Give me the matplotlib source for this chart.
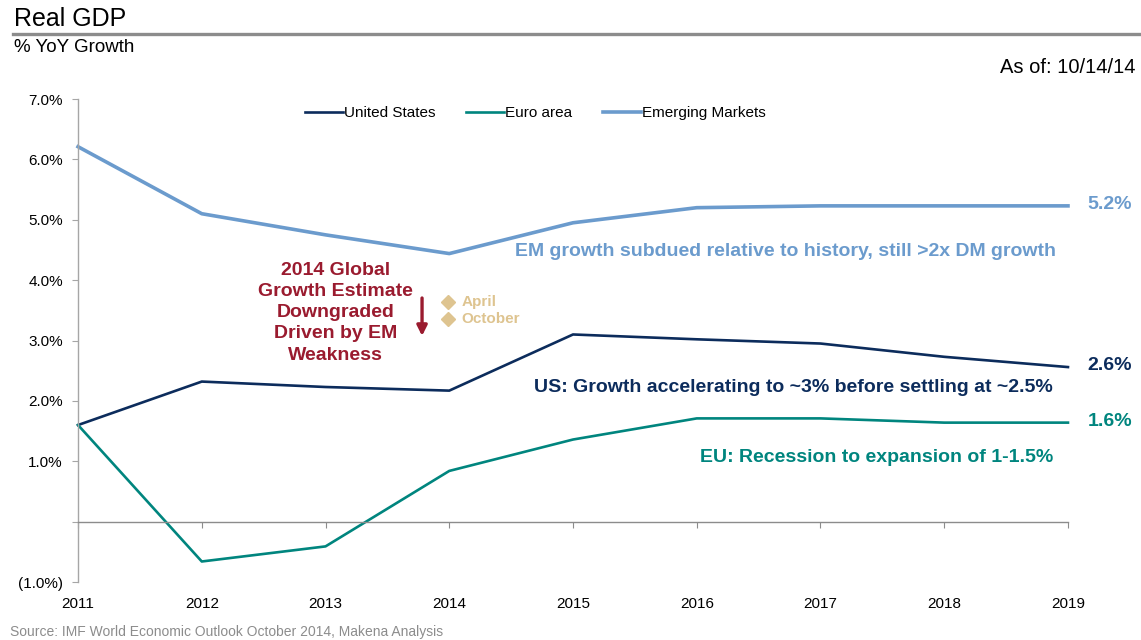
import numpy as np
import matplotlib
matplotlib.use("Agg")
import matplotlib.pyplot as plt
from matplotlib.lines import Line2D
from matplotlib.ticker import FuncFormatter

plt.rcParams['font.family'] = ['Liberation Sans', 'DejaVu Sans']

# ---- data: IMF WEO October 2014, real GDP % YoY ----
years = [2011, 2012, 2013, 2014, 2015, 2016, 2017, 2018, 2019]
us = [1.60, 2.32, 2.23, 2.17, 3.10, 3.02, 2.95, 2.73, 2.56]
euro = [1.60, -0.66, -0.41, 0.84, 1.36, 1.71, 1.71, 1.64, 1.64]
em = [6.21, 5.10, 4.75, 4.44, 4.95, 5.20, 5.23, 5.23, 5.23]
series_names = ['United States', 'Euro area', 'Emerging Markets']
yticks = [-1, 0, 1, 2, 3, 4, 5, 6, 7]

C_US = '#0C2C5C'
C_EU = '#00857E'
C_EM = '#6B9BCD'
C_RED = '#9A1B2F'
C_TAN = '#DEC490'
C_GRID = '#A6A6A6'

fig = plt.figure(figsize=(11.41, 6.40), dpi=100)
ax = fig.add_axes([0.0684, 0.0906, 0.8676, 0.7547])

ax.plot(years, us, color=C_US, lw=1.9, clip_on=False, label=series_names[0])
ax.plot(years, euro, color=C_EU, lw=1.9, clip_on=False, label=series_names[1])
ax.plot(years, em, color=C_EM, lw=2.6, clip_on=False, label=series_names[2])

ax.set_xlim(2011, 2019)
ax.set_ylim(-1, 7)

# axes styling: y spine on the left, x spine sitting on the zero line
for s in ['top', 'right']:
    ax.spines[s].set_visible(False)
ax.spines['left'].set_color(C_GRID)
ax.spines['left'].set_linewidth(1.0)
ax.spines['bottom'].set_position(('data', 0))
ax.spines['bottom'].set_color('#8C8C8C')
ax.spines['bottom'].set_linewidth(1.0)

ax.set_yticks(yticks)
def pct_fmt(v, _):
    if abs(v) < 1e-9:
        return ''
    if v < 0:
        return f'({abs(v):.1f}%)'
    return f'{v:.1f}%'
ax.yaxis.set_major_formatter(FuncFormatter(pct_fmt))
ax.tick_params(axis='y', direction='out', length=4, color=C_GRID,
               labelsize=11, pad=7)
ax.set_xticks(years)
ax.set_xticklabels([str(y) for y in years])
ax.tick_params(axis='x', direction='out', length=4, color='#8C8C8C',
               labelsize=11, pad=50)

# legend
leg = ax.legend(loc='upper center', bbox_to_anchor=(0.462, 1.014), ncol=3,
                frameon=False, fontsize=11, handlelength=2.5,
                handletextpad=0.05, columnspacing=2.0)

# end-of-line value labels
for vals, col in [(em, C_EM), (us, C_US), (euro, C_EU)]:
    ax.annotate(f'{vals[-1]:.1f}%', xy=(years[-1], vals[-1]),
                xytext=(14, 1), textcoords='offset points',
                ha='left', va='center', fontsize=14, fontweight='bold',
                color=col, annotation_clip=False)

# commentary
ax.text(2018.9, 4.47, 'EM growth subdued relative to history, still >2x DM growth',
        ha='right', va='center', fontsize=14, fontweight='bold', color=C_EM)
ax.text(2018.88, 2.22, 'US: Growth accelerating to ~3% before settling at ~2.5%',
        ha='right', va='center', fontsize=14, fontweight='bold', color=C_US)
ax.text(2018.88, 1.06, 'EU: Recession to expansion of 1-1.5%',
        ha='right', va='center', fontsize=14, fontweight='bold', color=C_EU)

ax.text(2013.08, 3.46, '2014 Global\nGrowth Estimate\nDowngraded\nDriven by EM\nWeakness',
        ha='center', va='center', fontsize=14, fontweight='bold', color=C_RED,
        linespacing=1.32)
ax.annotate('', xy=(2013.78, 3.03), xytext=(2013.78, 3.75),
            arrowprops=dict(arrowstyle='-|>', color=C_RED, lw=2.4,
                            mutation_scale=15))
ax.plot([2013.99, 2013.99], [3.64, 3.35], ls='none', marker='D', ms=7,
        color=C_TAN)
ax.text(2014.10, 3.64, 'April', ha='left', va='center', fontsize=11,
        fontweight='bold', color=C_TAN)
ax.text(2014.10, 3.35, 'October', ha='left', va='center', fontsize=11,
        fontweight='bold', color=C_TAN)

# header
fig.text(0.0125, 0.97, 'Real GDP', ha='left', va='center', fontsize=18)
fig.add_artist(Line2D([0.0114, 1.0], [0.947, 0.947], color='#8C8C8C', lw=2.4))
fig.text(0.0125, 0.926, '% YoY Growth', ha='left', va='center', fontsize=13.5)
fig.text(0.995, 0.895, 'As of: 10/14/14', ha='right', va='center', fontsize=14.5)
fig.text(0.009, 0.013, 'Source: IMF World Economic Outlook October 2014, Makena Analysis',
         ha='left', va='center', fontsize=10, color='#8C8C8C')

fig.savefig('out.png', dpi=100)
